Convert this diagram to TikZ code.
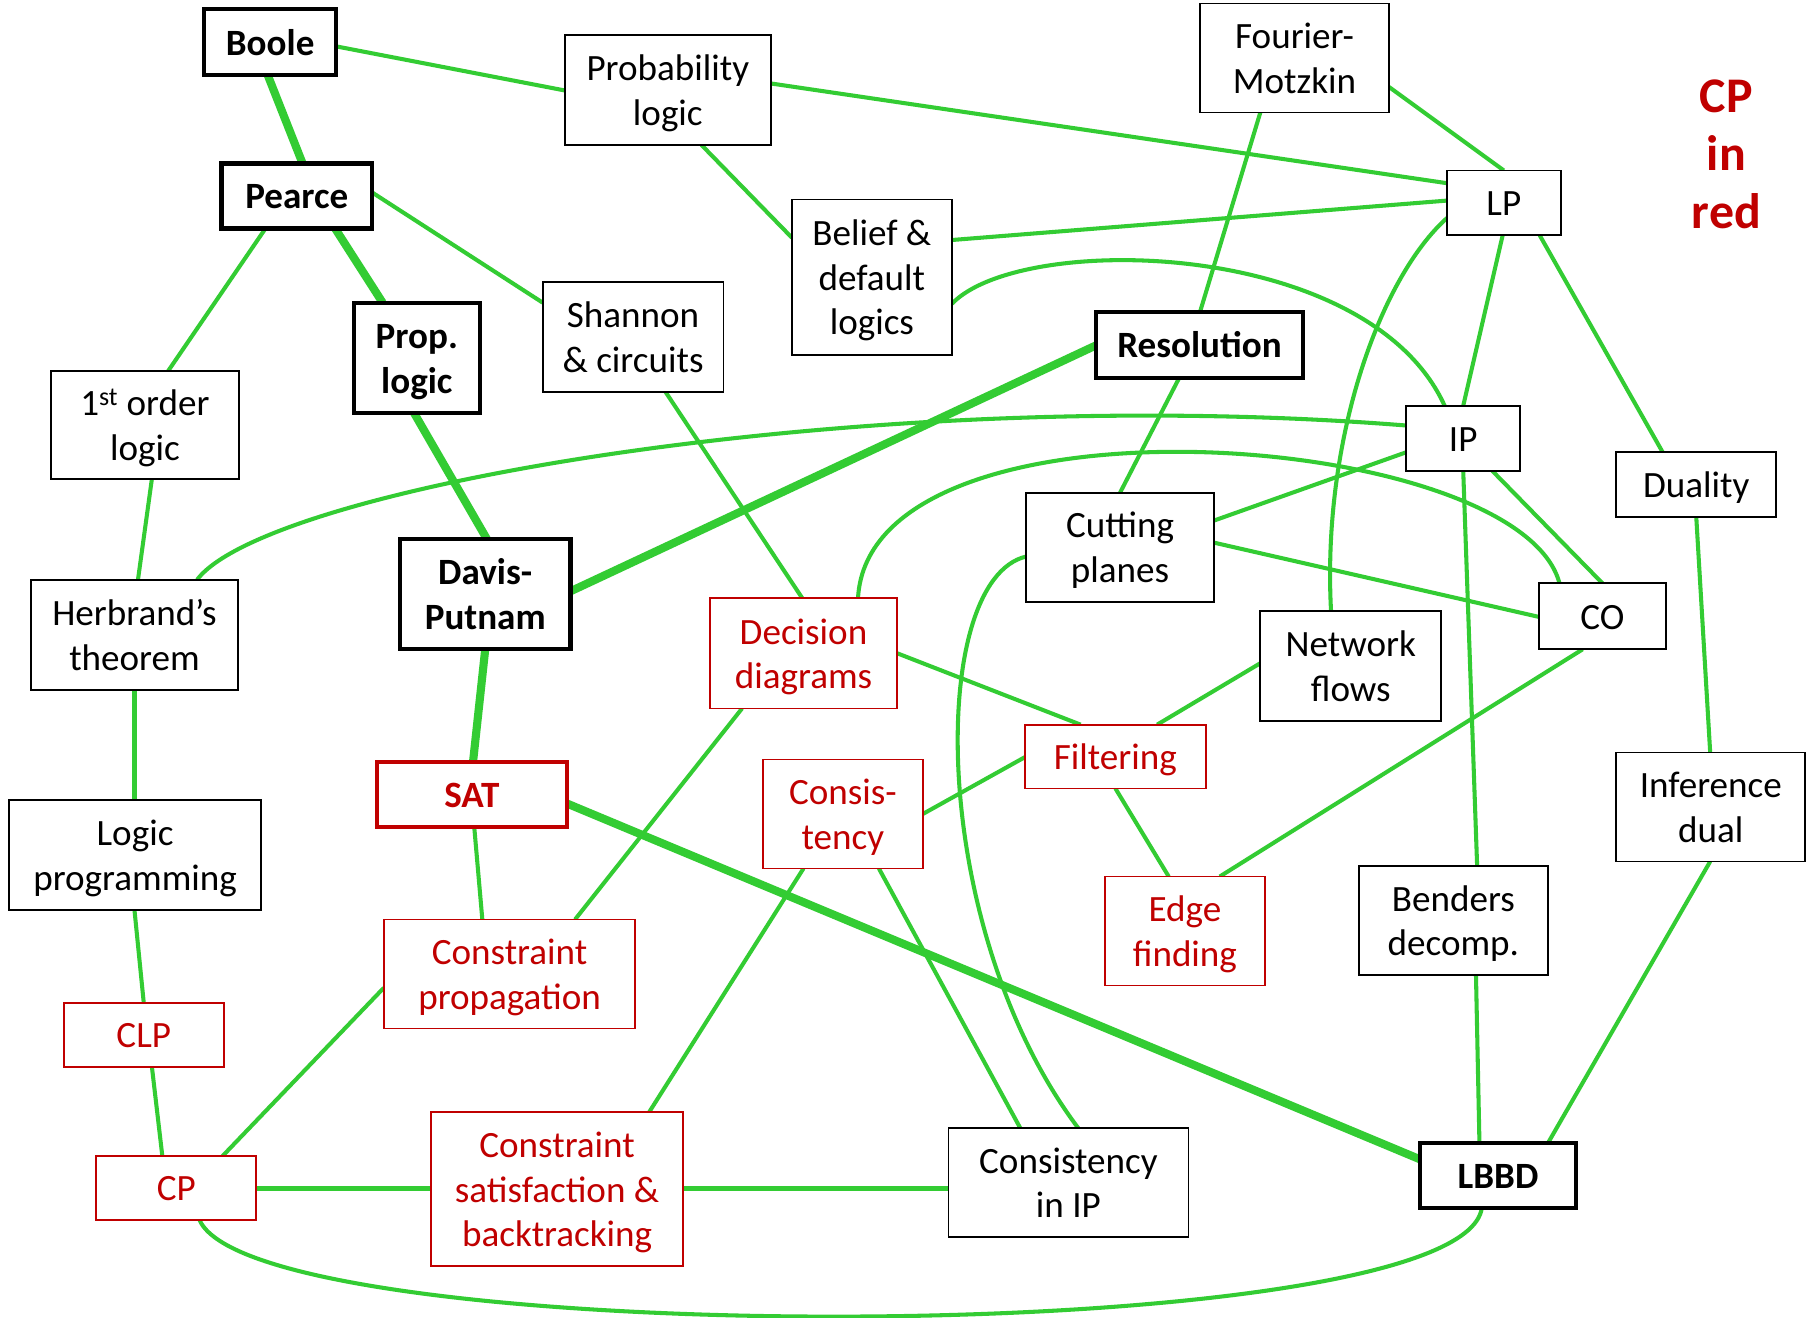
\documentclass[tikz,border=0pt]{standalone}
\usepackage{fontspec}
\setmainfont{Carlito}
\usetikzlibrary{backgrounds}
\definecolor{linkgreen}{RGB}{51,204,51}
\definecolor{cpred}{RGB}{192,0,0}
% centred lines with uniform strut-based height, set a little low in the box
\newcommand\boxtext[1]{\begin{tabular}{@{}c@{}}\rule{0pt}{34pt}#1\end{tabular}}
\begin{document}
\begin{tikzpicture}[x=1pt,y=-1pt,
  size/.style 2 args={minimum width=#1,minimum height=#2},
  box/.style={draw=black, line width=1.6pt, fill=white, inner sep=0pt,
    font=\fontsize{32}{38.5}\selectfont},
  keybox/.style={box, line width=3.6pt, font=\fontsize{32}{38.5}\selectfont\bfseries},
  cpbox/.style={box, draw=cpred, text=cpred},
  link/.style={draw=linkgreen, line width=3.5pt},
  mainlink/.style={draw=linkgreen, line width=7pt},
]
\useasboundingbox (0,0) rectangle (1568,1136);

% topics
\node[keybox, size={114}{57}] (boole) at (233,36.5) {\boxtext{Boole}};
\node[box, size={178}{95}] (prob) at (576,77.5) {\boxtext{Probability\\logic}};
\node[box, size={163}{94}] (fm) at (1116.5,50) {\boxtext{Fourier-\\Motzkin}};
\node[keybox, size={130}{56}] (pearce) at (256,169) {\boxtext{Pearce}};
\node[box, size={138}{134}] (belief) at (752,239) {\boxtext{Belief \&\\default\\logics}};
\node[box, size={98}{56}] (lp) at (1297,175) {\boxtext{LP}};
\node[box, size={156}{95}] (shannon) at (546,290.5) {\boxtext{Shannon\\\& circuits}};
\node[keybox, size={109}{95}] (prop) at (359.5,308.5) {\boxtext{Prop.\\logic}};
\node[keybox, size={179}{57}] (res) at (1034.5,297.5) {\boxtext{Resolution}};
\node[box, size={162}{93}] (fol) at (125,366.5) {\boxtext{1\textsuperscript{st} order\\logic}};
\node[box, size={98}{56}] (ip) at (1262,378) {\boxtext{IP}};
\node[box, size={138}{56}] (duality) at (1463,418) {\boxtext{Duality}};
\node[box, size={162}{94}] (cut) at (966,472) {\boxtext{Cutting\\planes}};
\node[box, size={178}{95}] (herb) at (116,547.5) {\boxtext{Herbrand’s\\theorem}};
\node[keybox, size={147}{95}] (dp) at (418.5,512.5) {\boxtext{Davis-\\Putnam}};
\node[cpbox, size={162}{95}] (dd) at (693,563.5) {\boxtext{Decision\\diagrams}};
\node[box, size={110}{57}] (co) at (1382,531.5) {\boxtext{CO}};
\node[box, size={156}{95}] (nf) at (1165,574.5) {\boxtext{Network\\flows}};
\node[cpbox, size={156}{55}] (filt) at (962,652.5) {\boxtext{Filtering}};
\node[box, size={163}{94}] (idual) at (1475.5,696) {\boxtext{Inference\\dual}};
\node[keybox, draw=cpred, text=cpred, size={164}{56}] (sat) at (407,685) {\boxtext{SAT}};
\node[cpbox, size={138}{94}] (cons) at (727,702) {\boxtext{Consis-\\tency}};
\node[box, size={217}{95}] (lprog) at (116.5,737.5) {\boxtext{Logic\\programming}};
\node[cpbox, size={138}{94}] (edge) at (1022,803) {\boxtext{Edge\\finding}};
\node[box, size={163}{94}] (benders) at (1253.5,794) {\boxtext{Benders\\decomp.}};
\node[cpbox, size={217}{94}] (cprop) at (439.5,840) {\boxtext{Constraint\\propagation}};
\node[cpbox, size={138}{55}] (clp) at (124,892.5) {\boxtext{CLP}};
\node[cpbox, size={138}{55}] (cp) at (152,1024.5) {\boxtext{CP}};
\node[cpbox, size={217}{133}] (csb) at (480.5,1025.5) {\boxtext{Constraint\\satisfaction \&\\backtracking}};
\node[box, size={207}{94}] (cip) at (921.5,1020) {\boxtext{Consistency\\in IP}};
\node[keybox, size={134}{56}] (lbbd) at (1292,1014) {\boxtext{LBBD}};

% legend
\node[font=\fontsize{43}{50}\selectfont\bfseries, text=cpred, align=center, inner sep=0pt]
  (legend) at (1489,133) {CP\\in\\red};

\begin{pgfonlayer}{background}
\fill[white] (0,0) rectangle (1568,1136);
% main line of descent
\draw[mainlink] ([shift={(-2,28.5)}]boole.center) -- ([shift={(5,-28)}]pearce.center);
\draw[mainlink] ([shift={(33,28)}]pearce.center) -- ([shift={(-29.5,-47.5)}]prop.center);
\draw[mainlink] ([shift={(-2.5,47.5)}]prop.center) -- ([shift={(1.5,-47.5)}]dp.center);
\draw[mainlink] ([shift={(-89.5,0.5)}]res.center) -- ([shift={(73.5,-2.5)}]dp.center);
\draw[mainlink] ([shift={(0,47.5)}]dp.center) -- ([shift={(1,-28)}]sat.center);
\draw[mainlink] ([shift={(82,8)}]sat.center) -- ([shift={(-67,-14)}]lbbd.center);
% other links
\draw[link] ([shift={(57,3.5)}]boole.center) -- ([shift={(-89,0.5)}]prob.center);
\draw[link] ([shift={(89,-5.5)}]prob.center) -- ([shift={(-49,-17)}]lp.center);
\draw[link] ([shift={(29,47.5)}]prob.center) -- ([shift={(-69,-34)}]belief.center);
\draw[link] ([shift={(81.5,25)}]fm.center) -- ([shift={(0,-28)}]lp.center);
\draw[link] ([shift={(-29.5,47)}]fm.center) -- ([shift={(0.5,-28.5)}]res.center);
\draw[link] ([shift={(-27,28)}]pearce.center) -- ([shift={(20,-46.5)}]fol.center);
\draw[link] ([shift={(65,-3)}]pearce.center) -- ([shift={(-78,-29.5)}]shannon.center);
\draw[link] ([shift={(69,-32)}]belief.center) -- ([shift={(-49,-2)}]lp.center);
\draw[link] ([shift={(69,23)}]belief.center) .. controls +(59,-62) and +(-66,-145) .. ([shift={(-16,-28)}]ip.center);
\draw[link] ([shift={(-1,28)}]lp.center) -- ([shift={(0,-28)}]ip.center);
\draw[link] ([shift={(31,28)}]lp.center) -- ([shift={(-29,-28)}]duality.center);
\draw[link] ([shift={(-49,13)}]lp.center) .. controls +(-58,52) and +(-8,-147) .. ([shift={(-17,-47.5)}]nf.center);
\draw[link] ([shift={(28,47.5)}]shannon.center) -- ([shift={(-1,-47.5)}]dd.center);
\draw[link] ([shift={(-17.5,28.5)}]res.center) -- ([shift={(0,-47)}]cut.center);
\draw[link] ([shift={(6,46.5)}]fol.center) -- ([shift={(3,-47.5)}]herb.center);
\draw[link] ([shift={(54,-47.5)}]herb.center) .. controls +(60,-80) and +(-463,-37) .. ([shift={(-49,-11)}]ip.center);
\draw[link] ([shift={(-49,12)}]ip.center) -- ([shift={(81,-23)}]cut.center);
\draw[link] ([shift={(25,28)}]ip.center) -- ([shift={(0,-28.5)}]co.center);
\draw[link] ([shift={(0,28)}]ip.center) -- ([shift={(20.5,-47)}]benders.center);
\draw[link] ([shift={(47,-47.5)}]dd.center) .. controls +(10,-186) and +(-35,-133) .. ([shift={(-37,-28.5)}]co.center);
\draw[link] ([shift={(81,-4)}]cut.center) -- ([shift={(-55,0.5)}]co.center);
\draw[link] ([shift={(-81,8)}]cut.center) .. controls +(-85,20) and +(-130,-173) .. ([shift={(8.5,-47)}]cip.center);
\draw[link] ([shift={(0,47.5)}]herb.center) -- ([shift={(-0.5,-47.5)}]lprog.center);
\draw[link] ([shift={(81,0)}]dd.center) -- ([shift={(-30,-27.5)}]filt.center);
\draw[link] ([shift={(-53,47.5)}]dd.center) -- ([shift={(56.5,-47)}]cprop.center);
\draw[link] ([shift={(0,28)}]duality.center) -- ([shift={(-0.5,-47)}]idual.center);
\draw[link] ([shift={(-17,28.5)}]co.center) -- ([shift={(30,-47)}]edge.center);
\draw[link] ([shift={(-78,-2.5)}]nf.center) -- ([shift={(36,-27.5)}]filt.center);
\draw[link] ([shift={(-78,0.5)}]filt.center) -- ([shift={(69,0)}]cons.center);
\draw[link] ([shift={(0,27.5)}]filt.center) -- ([shift={(-14,-47)}]edge.center);
\draw[link] ([shift={(2,28)}]sat.center) -- ([shift={(-23.5,-47)}]cprop.center);
\draw[link] ([shift={(-34,47)}]cons.center) -- ([shift={(79.5,-66.5)}]csb.center);
\draw[link] ([shift={(31,47)}]cons.center) -- ([shift={(-41.5,-47)}]cip.center);
\draw[link] ([shift={(-0.5,47.5)}]lprog.center) -- ([shift={(0,-27.5)}]clp.center);
\draw[link] ([shift={(-108.5,12)}]cprop.center) -- ([shift={(40,-27.5)}]cp.center);
\draw[link] ([shift={(7,27.5)}]clp.center) -- ([shift={(-12,-27.5)}]cp.center);
\draw[link] ([shift={(-0.5,47)}]idual.center) -- ([shift={(43,-28)}]lbbd.center);
\draw[link] ([shift={(19.5,47)}]benders.center) -- ([shift={(-16,-28)}]lbbd.center);
\draw[link, line width=4pt] ([shift={(69,0.5)}]cp.center) -- ([shift={(-108.5,-0.5)}]csb.center);
\draw[link, line width=4pt] ([shift={(108.5,-0.5)}]csb.center) -- ([shift={(-103.5,5)}]cip.center);
\draw[link] ([shift={(20,27.5)}]cp.center) .. controls +(48,113) and +(-18,123) .. ([shift={(-14,28)}]lbbd.center);
\end{pgfonlayer}
\end{tikzpicture}
\end{document}
